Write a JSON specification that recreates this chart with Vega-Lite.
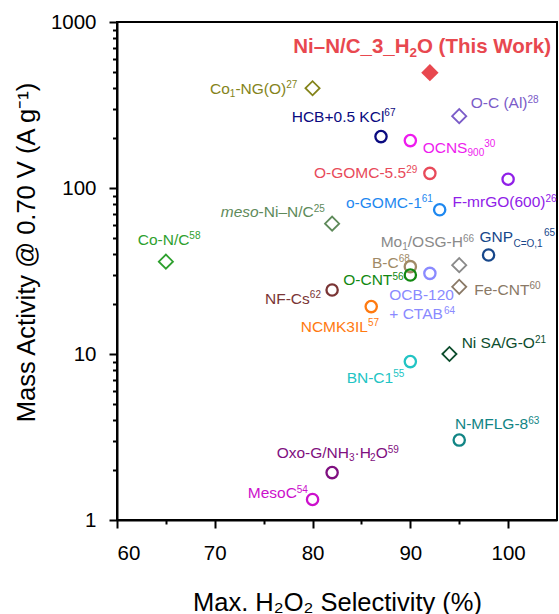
{
  "$schema": "https://vega.github.io/schema/vega-lite/v6.json",
  "autosize": "none",
  "padding": {"left": 117, "top": 22, "right": 2, "bottom": 94},
  "width": 440,
  "height": 498,
  "config": {
    "font": "Liberation Sans",
    "view": {"stroke": "black", "strokeWidth": 2}
  },
  "datasets": {
    "pts": [
      {"name": "this", "sel": 92, "act": 495, "cls": "this work"},
      {"name": "co1", "sel": 80, "act": 399, "cls": "metal-doped"},
      {"name": "ocal", "sel": 95, "act": 271, "cls": "metal-doped"},
      {"name": "hcb", "sel": 87, "act": 204, "cls": "metal-free"},
      {"name": "ocns", "sel": 90, "act": 193, "cls": "metal-free"},
      {"name": "ogomc55", "sel": 92, "act": 122.5, "cls": "metal-free"},
      {"name": "fmrgo", "sel": 100, "act": 113, "cls": "metal-free"},
      {"name": "ogomc1", "sel": 93, "act": 74, "cls": "metal-free"},
      {"name": "meso", "sel": 82, "act": 61, "cls": "metal-doped"},
      {"name": "con", "sel": 65, "act": 36, "cls": "metal-doped"},
      {"name": "mo1", "sel": 95, "act": 34.3, "cls": "metal-doped"},
      {"name": "gnp", "sel": 98, "act": 39.5, "cls": "metal-free"},
      {"name": "bc", "sel": 90, "act": 33.6, "cls": "metal-free"},
      {"name": "ocnt", "sel": 90, "act": 29.9, "cls": "metal-free"},
      {"name": "ocb", "sel": 92, "act": 30.6, "cls": "metal-free"},
      {"name": "fecnt", "sel": 95, "act": 25.4, "cls": "metal-doped"},
      {"name": "nfcs", "sel": 82, "act": 24.3, "cls": "metal-free"},
      {"name": "ncmk", "sel": 86, "act": 19.3, "cls": "metal-free"},
      {"name": "nisa", "sel": 94, "act": 10, "cls": "metal-doped"},
      {"name": "bnc1", "sel": 90, "act": 9.0, "cls": "metal-free"},
      {"name": "nmflg", "sel": 95, "act": 3.03, "cls": "metal-free"},
      {"name": "oxo", "sel": 82, "act": 1.93, "cls": "metal-free"},
      {"name": "mesoc", "sel": 80, "act": 1.33, "cls": "metal-free"}
    ],
    "lbl": [
      {"name": "this", "txt": "Ni–N/C_3_H", "role": "title", "sel": 78.03, "act": 648},
      {"name": "this", "txt": "2", "role": "titlesub", "sel": 89.91, "act": 615.5},
      {"name": "this", "txt": "O (This Work)", "role": "title", "sel": 90.68, "act": 648},
      {"name": "co1", "txt": "Co", "role": "main", "sel": 69.51, "act": 368.4},
      {"name": "co1", "txt": "1", "role": "small", "sel": 71.54, "act": 353.4},
      {"name": "co1", "txt": "-NG(O)", "role": "main", "sel": 72.11, "act": 368.4},
      {"name": "co1", "txt": "27", "role": "small", "sel": 77.30, "act": 400.4},
      {"name": "ocal", "txt": "O-C (Al)", "role": "main", "sel": 96.17, "act": 302.0},
      {"name": "ocal", "txt": "28", "role": "small", "sel": 101.98, "act": 326.1},
      {"name": "hcb", "txt": "HCB+0.5 KCl", "role": "main", "sel": 77.87, "act": 250.8},
      {"name": "hcb", "txt": "67", "role": "small", "sel": 87.34, "act": 270.7},
      {"name": "ocns", "txt": "OCNS", "role": "main", "sel": 91.26, "act": 163.2},
      {"name": "ocns", "txt": "900", "role": "small", "sel": 95.85, "act": 156.5},
      {"name": "ocns", "txt": "30", "role": "small", "sel": 97.55, "act": 176.1},
      {"name": "ogomc55", "txt": "O-GOMC-5.5", "role": "main", "sel": 80.15, "act": 114.4},
      {"name": "ogomc55", "txt": "29", "role": "small", "sel": 89.57, "act": 123.5},
      {"name": "fmrgo", "txt": "F-mrGO(600)", "role": "main", "sel": 94.31, "act": 76.5},
      {"name": "fmrgo", "txt": "26", "role": "small", "sel": 103.82, "act": 82.6},
      {"name": "ogomc1", "txt": "o-GOMC-1", "role": "main", "sel": 83.42, "act": 75.8},
      {"name": "ogomc1", "txt": "61", "role": "small", "sel": 91.17, "act": 81.8},
      {"name": "meso", "txt": "meso", "role": "italic", "sel": 70.61, "act": 66.6},
      {"name": "meso", "txt": "-Ni–N/C", "role": "main", "sel": 74.48, "act": 66.6},
      {"name": "meso", "txt": "25", "role": "small", "sel": 80.12, "act": 71.9},
      {"name": "con", "txt": "Co-N/C", "role": "main", "sel": 62.12, "act": 45.4},
      {"name": "con", "txt": "58", "role": "small", "sel": 67.40, "act": 49.0},
      {"name": "mo1", "txt": "Mo", "role": "main", "sel": 86.97, "act": 43.9},
      {"name": "mo1", "txt": "1", "role": "small", "sel": 89.17, "act": 42.1},
      {"name": "mo1", "txt": "/OSG-H", "role": "main", "sel": 89.74, "act": 43.9},
      {"name": "mo1", "txt": "66", "role": "small", "sel": 95.38, "act": 47.4},
      {"name": "gnp", "txt": "GNP", "role": "main", "sel": 97.07, "act": 47.5},
      {"name": "gnp", "txt": "C=O,1", "role": "small", "sel": 100.55, "act": 44.4},
      {"name": "gnp", "txt": "65", "role": "small", "sel": 103.67, "act": 51.4},
      {"name": "bc", "txt": "B-C", "role": "main", "sel": 86.08, "act": 33.0},
      {"name": "bc", "txt": "68", "role": "small", "sel": 88.81, "act": 35.6},
      {"name": "ocnt", "txt": "O-CNT", "role": "main", "sel": 83.14, "act": 26.0},
      {"name": "ocnt", "txt": "56", "role": "small", "sel": 88.17, "act": 28.1},
      {"name": "nfcs", "txt": "NF-Cs", "role": "main", "sel": 75.14, "act": 20.0},
      {"name": "nfcs", "txt": "62", "role": "small", "sel": 79.72, "act": 21.6},
      {"name": "ocb", "txt": "OCB-120", "role": "main", "sel": 87.85, "act": 21.1},
      {"name": "ocb", "txt": "+ CTAB", "role": "main", "sel": 87.85, "act": 16.25},
      {"name": "ocb", "txt": "64", "role": "small", "sel": 93.44, "act": 17.5},
      {"name": "fecnt", "txt": "Fe-CNT", "role": "main", "sel": 96.54, "act": 22.7},
      {"name": "fecnt", "txt": "60", "role": "small", "sel": 102.18, "act": 24.5},
      {"name": "ncmk", "txt": "NCMK3IL", "role": "main", "sel": 78.79, "act": 13.6},
      {"name": "ncmk", "txt": "57", "role": "small", "sel": 85.66, "act": 14.7},
      {"name": "nisa", "txt": "Ni SA/G-O", "role": "main", "sel": 95.25, "act": 10.8},
      {"name": "nisa", "txt": "21", "role": "small", "sel": 102.74, "act": 11.7},
      {"name": "bnc1", "txt": "BN-C1", "role": "main", "sel": 83.49, "act": 6.72},
      {"name": "bnc1", "txt": "55", "role": "small", "sel": 88.25, "act": 7.25},
      {"name": "nmflg", "txt": "N-MFLG-8", "role": "main", "sel": 94.57, "act": 3.52},
      {"name": "nmflg", "txt": "63", "role": "small", "sel": 102.05, "act": 3.80},
      {"name": "oxo", "txt": "Oxo-G/NH", "role": "main", "sel": 76.33, "act": 2.353},
      {"name": "oxo", "txt": "3", "role": "small", "sel": 83.73, "act": 2.257},
      {"name": "oxo", "txt": "·H", "role": "main", "sel": 84.30, "act": 2.353},
      {"name": "oxo", "txt": "2", "role": "small", "sel": 85.88, "act": 2.257},
      {"name": "oxo", "txt": "O", "role": "main", "sel": 86.46, "act": 2.353},
      {"name": "oxo", "txt": "59", "role": "small", "sel": 87.69, "act": 2.540},
      {"name": "mesoc", "txt": "MesoC", "role": "main", "sel": 73.37, "act": 1.351},
      {"name": "mesoc", "txt": "54", "role": "small", "sel": 78.39, "act": 1.458}
    ]
  },
  "encoding": {
    "x": {
      "field": "sel", "type": "quantitative",
      "scale": {"domain": [60, 105], "nice": false, "zero": false},
      "axis": {
        "title": "Max. H₂O₂ Selectivity (%)",
        "values": [60, 65, 70, 75, 80, 85, 90, 95, 100],
        "labelExpr": "datum.value % 10 === 0 ? datum.label : ''",
        "tickSize": {"condition": {"test": "datum.value % 10 === 0", "value": 8}, "value": 4},
        "grid": false,
        "domainColor": "black", "domainWidth": 2,
        "tickColor": "black", "tickWidth": 2,
        "labelFontSize": 20.5, "labelColor": "black", "labelPadding": 15,
        "titleFontSize": 25.5, "titleFontWeight": "normal", "titleColor": "black",
        "titleY": 90, "titleBaseline": "alphabetic"
      }
    },
    "y": {
      "field": "act", "type": "quantitative",
      "scale": {"type": "log", "domain": [1, 1000], "nice": false},
      "axis": {
        "title": "Mass Activity @ 0.70 V (A g⁻¹)",
        "values": [1, 2, 3, 4, 5, 6, 7, 8, 9, 10, 20, 30, 40, 50, 60, 70, 80, 90, 100, 200, 300, 400, 500, 600, 700, 800, 900, 1000],
        "format": "d",
        "labelExpr": "indexof([1, 10, 100, 1000], datum.value) >= 0 ? datum.label : ''",
        "tickSize": {"condition": {"test": "indexof([1, 10, 100, 1000], datum.value) >= 0", "value": 8}, "value": 4.5},
        "grid": false,
        "domainColor": "black", "domainWidth": 2,
        "tickColor": "black", "tickWidth": 2,
        "labelFontSize": 20.5, "labelColor": "black", "labelPadding": 13,
        "titleFontSize": 25.5, "titleFontWeight": "normal", "titleColor": "black",
        "titleX": -82.5, "titleY": 230, "titleBaseline": "alphabetic"
      }
    },
    "color": {
      "field": "name", "type": "nominal", "legend": null,
      "scale": {
        "domain": ["this", "co1", "ocal", "hcb", "ocns", "ogomc55", "fmrgo", "ogomc1", "meso", "con", "mo1", "gnp", "bc", "ocnt", "ocb", "fecnt", "nfcs", "ncmk", "nisa", "bnc1", "nmflg", "oxo", "mesoc"],
        "range": ["#e8484f", "#84841a", "#7b5cc8", "#0a0a80", "#ee1cee", "#e84a5a", "#9020e8", "#1e88f0", "#5e8a5a", "#2ea02e", "#8a8a8a", "#17478a", "#a08a66", "#118811", "#8a8aff", "#8a7966", "#7a3535", "#ff7a10", "#0d4d2d", "#22c4c4", "#128585", "#7f0f80", "#cc10cc"]
      }
    }
  },
  "layer": [
    {
      "data": {"name": "pts"},
      "transform": [{"filter": "datum.cls === 'metal-free'"}],
      "mark": {"type": "point", "shape": "circle", "filled": false, "size": 127, "strokeWidth": 2.3, "opacity": 1}
    },
    {
      "data": {"name": "pts"},
      "transform": [{"filter": "datum.cls === 'metal-doped'"}],
      "mark": {"type": "point", "shape": "diamond", "filled": false, "size": 200, "strokeWidth": 1.8, "opacity": 1}
    },
    {
      "data": {"name": "pts"},
      "transform": [{"filter": "datum.cls === 'this work'"}],
      "mark": {"type": "point", "shape": "diamond", "filled": true, "size": 300, "opacity": 1}
    },
    {
      "data": {"name": "lbl"},
      "transform": [{"filter": "datum.role === 'main'"}],
      "mark": {"type": "text", "align": "left", "baseline": "alphabetic", "fontSize": 15.5},
      "encoding": {"text": {"field": "txt"}}
    },
    {
      "data": {"name": "lbl"},
      "transform": [{"filter": "datum.role === 'italic'"}],
      "mark": {"type": "text", "align": "left", "baseline": "alphabetic", "fontSize": 15.5, "fontStyle": "italic"},
      "encoding": {"text": {"field": "txt"}}
    },
    {
      "data": {"name": "lbl"},
      "transform": [{"filter": "datum.role === 'small'"}],
      "mark": {"type": "text", "align": "left", "baseline": "alphabetic", "fontSize": 10},
      "encoding": {"text": {"field": "txt"}}
    },
    {
      "data": {"name": "lbl"},
      "transform": [{"filter": "datum.role === 'title'"}],
      "mark": {"type": "text", "align": "left", "baseline": "alphabetic", "fontSize": 20.5, "fontWeight": "bold"},
      "encoding": {"text": {"field": "txt"}}
    },
    {
      "data": {"name": "lbl"},
      "transform": [{"filter": "datum.role === 'titlesub'"}],
      "mark": {"type": "text", "align": "left", "baseline": "alphabetic", "fontSize": 13.5, "fontWeight": "bold"},
      "encoding": {"text": {"field": "txt"}}
    }
  ]
}
